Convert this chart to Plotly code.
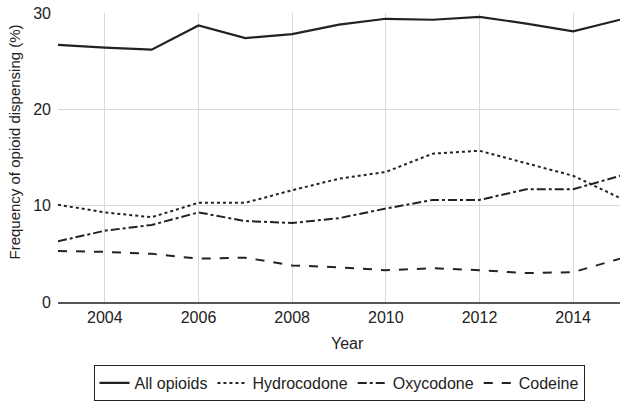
import plotly.graph_objects as go

years = list(range(2003, 2016))
all_opioids = [26.7, 26.4, 26.2, 28.7, 27.4, 27.8, 28.8, 29.4, 29.3, 29.6, 28.9, 28.1, 29.3]
hydrocodone = [10.1, 9.3, 8.8, 10.3, 10.3, 11.6, 12.8, 13.5, 15.4, 15.7, 14.4, 13.1, 10.8]
oxycodone = [6.3, 7.4, 8.0, 9.3, 8.4, 8.2, 8.7, 9.7, 10.6, 10.6, 11.7, 11.7, 13.1]
codeine = [5.3, 5.2, 5.0, 4.5, 4.6, 3.8, 3.6, 3.3, 3.5, 3.3, 3.0, 3.1, 4.5]

series = [
    ("All opioids", all_opioids, "solid", 2.2),
    ("Hydrocodone", hydrocodone, "dot", 2),
    ("Oxycodone", oxycodone, "dashdot", 2),
    ("Codeine", codeine, "dash", 2),
]

fig = go.Figure()
for name, vals, dash, w in series:
    fig.add_trace(go.Scatter(x=years, y=vals, mode="lines", name=name,
                             line=dict(color="#222222", width=w, dash=dash)))

fig.update_layout(
    width=626, height=402,
    margin=dict(l=58, r=6, t=13, b=100, autoexpand=False),
    paper_bgcolor="white", plot_bgcolor="white",
    font=dict(family="Liberation Sans, Arial, sans-serif", size=14, color="#222222"),
    showlegend=True,
    legend=dict(orientation="h", x=0.5, xanchor="center", y=-0.218, yanchor="top",
                bordercolor="#222222", borderwidth=1, font=dict(size=16),
                itemwidth=30, tracegroupgap=0),
    xaxis=dict(range=[2003, 2015], tickvals=[2004, 2006, 2008, 2010, 2012, 2014],
               showgrid=True, gridcolor="#d9d9d9", gridwidth=1,
               showline=True, linecolor="#555555", linewidth=1.5,
               zeroline=False, ticks="", tickfont=dict(size=16)),
    yaxis=dict(range=[0, 30], tickvals=[0, 10, 20, 30],
               showgrid=True, gridcolor="#d9d9d9", gridwidth=1,
               showline=False, zeroline=False, ticks="", tickfont=dict(size=16),
               ticklabelstandoff=6),
    annotations=[
        dict(text="Frequency of opioid dispensing (%)", textangle=-90,
             xref="paper", yref="paper", x=-0.0774, y=0.5536,
             xanchor="center", yanchor="middle", showarrow=False,
             font=dict(size=15, color="#222222")),
        dict(text="Year", xref="paper", yref="paper", x=0.515, y=-0.1419,
             xanchor="center", yanchor="middle", showarrow=False,
             font=dict(size=16, color="#222222")),
    ],
)

fig.write_html("out.html", config={"displayModeBar": False},
               post_script="document.body.style.margin='0';document.body.style.overflow='hidden';")
